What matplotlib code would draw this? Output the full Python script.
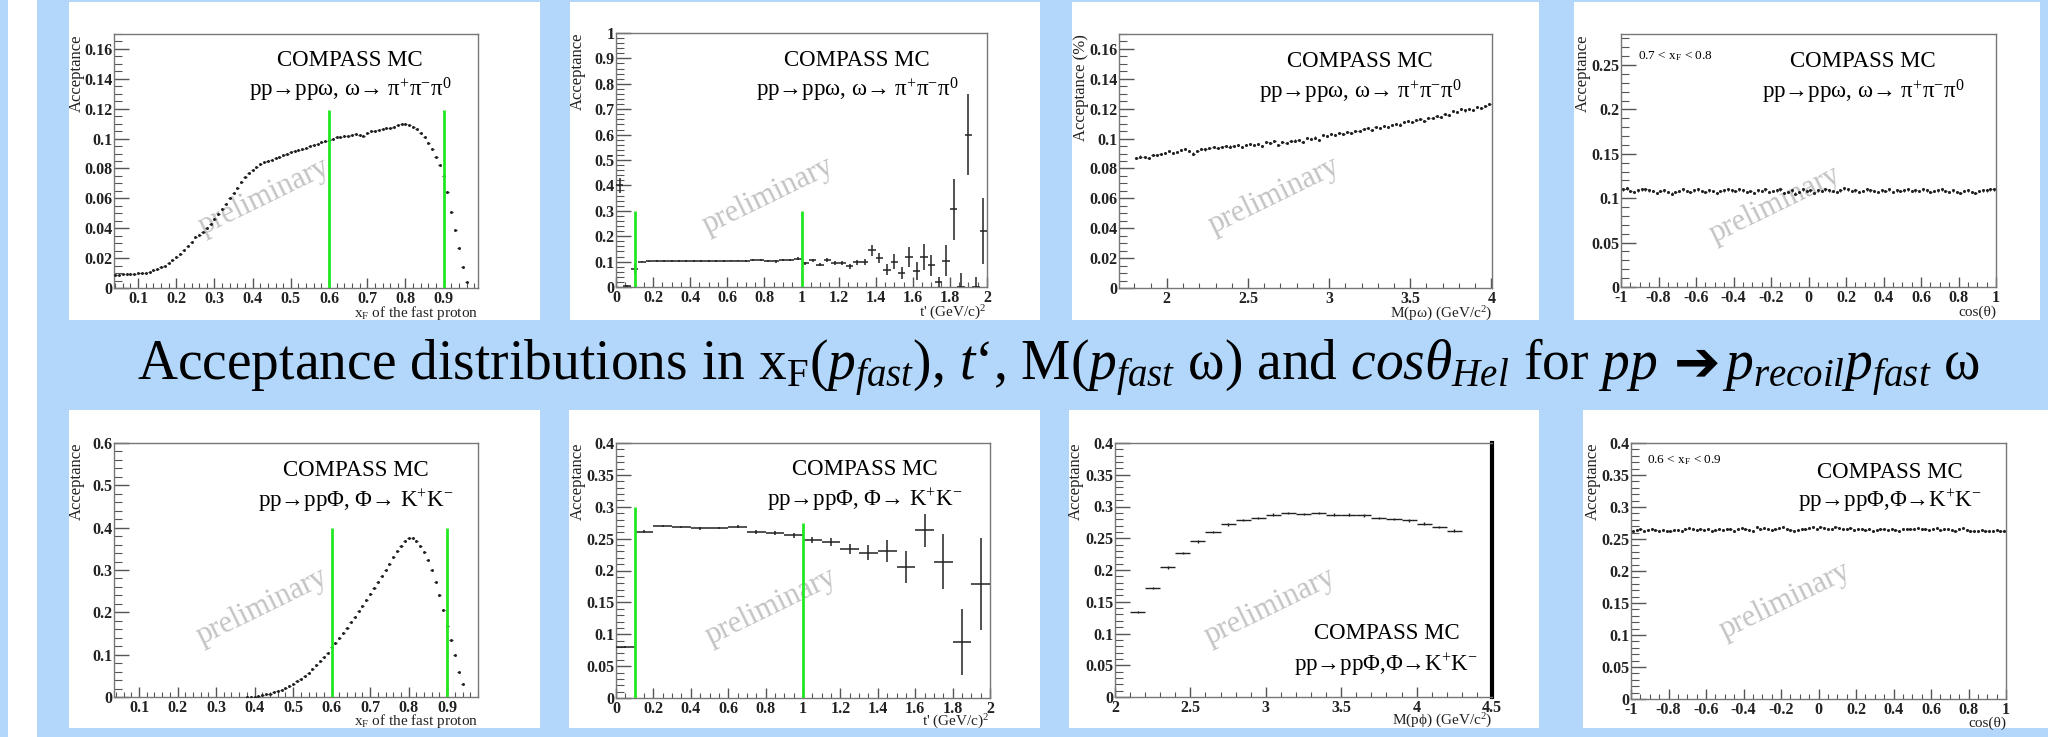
import matplotlib
matplotlib.use('Agg')
import matplotlib.pyplot as plt
import numpy as np
from matplotlib.patches import Rectangle
from matplotlib.ticker import AutoMinorLocator, FuncFormatter, MultipleLocator

W, H = 2048, 737
BLUE = '#b3d7fb'
GREEN = '#22e822'
INK = '#222222'

plt.rcParams['font.family'] = ['Liberation Serif', 'DejaVu Serif']
plt.rcParams['mathtext.fontset'] = 'custom'
plt.rcParams['mathtext.rm'] = 'Liberation Serif'
plt.rcParams['mathtext.it'] = 'Liberation Serif:italic'
plt.rcParams['mathtext.bf'] = 'Liberation Serif:bold'

# ---- data ----
# omega: acceptance vs x_F (bins of 0.01, 0.04 .. 0.96)
xf_omega_x = np.round(np.linspace(0.04, 0.96, 93), 3)
xf_omega = [0.0090, 0.0090, 0.0092, 0.0095, 0.0094, 0.0097, 0.0098, 0.0100, 0.0102, 0.0108,
            0.0118, 0.0128, 0.0138, 0.0150, 0.0166, 0.0190, 0.0210, 0.0230, 0.0252, 0.0280,
            0.0310, 0.0338, 0.0358, 0.0372, 0.0400, 0.0430, 0.0460, 0.0492, 0.0528, 0.0560,
            0.0600, 0.0638, 0.0672, 0.0708, 0.0740, 0.0768, 0.0790, 0.0810, 0.0828, 0.0840,
            0.0850, 0.0860, 0.0870, 0.0880, 0.0888, 0.0898, 0.0908, 0.0918, 0.0926, 0.0930,
            0.0940, 0.0948, 0.0958, 0.0966, 0.0975, 0.0985, 0.0992, 0.1000, 0.1008, 0.1012,
            0.1020, 0.1018, 0.1024, 0.1030, 0.1026, 0.1020, 0.1040, 0.1048, 0.1052, 0.1060,
            0.1062, 0.1070, 0.1072, 0.1080, 0.1090, 0.1096, 0.1100, 0.1092, 0.1080, 0.1062,
            0.1040, 0.1012, 0.0972, 0.0930, 0.0880, 0.0820, 0.0750, 0.0640, 0.0510, 0.0390,
            0.0270, 0.0140, 0.0040]

# omega: acceptance vs t' (bins of 0.04)
t_omega_x = np.round(np.linspace(0.02, 1.98, 50), 3)
t_omega = [0.400, 0.005, 0.070, 0.100, 0.101, 0.102, 0.103, 0.103, 0.103, 0.103,
           0.103, 0.103, 0.102, 0.103, 0.103, 0.104, 0.104, 0.103, 0.107, 0.105,
           0.104, 0.101, 0.106, 0.106, 0.111, 0.094, 0.105, 0.088, 0.107, 0.094,
           0.094, 0.081, 0.097, 0.097, 0.144, 0.114, 0.068, 0.100, 0.055, 0.118,
           0.062, 0.118, 0.085, 0.018, 0.104, 0.307, 0.000, 0.600, 0.000, 0.222]
t_omega_err = [0.030, 0.004, 0.020, 0.003, 0.003, 0.003, 0.003, 0.003, 0.003, 0.003,
               0.003, 0.003, 0.003, 0.003, 0.003, 0.003, 0.003, 0.004, 0.004, 0.004,
               0.004, 0.005, 0.005, 0.005, 0.006, 0.006, 0.007, 0.007, 0.008, 0.008,
               0.009, 0.010, 0.011, 0.012, 0.020, 0.020, 0.022, 0.030, 0.025, 0.040,
               0.035, 0.050, 0.040, 0.020, 0.060, 0.120, 0.055, 0.160, 0.040, 0.130]

# omega: acceptance vs M(p omega) (bins of 0.025, 1.8 .. 4.0)
m_omega_x = np.round(np.linspace(1.8125, 3.9875, 88), 4)
m_omega = [0.0868, 0.0880, 0.0878, 0.0872, 0.0888, 0.0893, 0.0897, 0.0904,
           0.0915, 0.0905, 0.0912, 0.0923, 0.0928, 0.0918, 0.0900, 0.0916,
           0.0932, 0.0927, 0.0940, 0.0944, 0.0936, 0.0941, 0.0950, 0.0947,
           0.0952, 0.0960, 0.0946, 0.0956, 0.0966, 0.0959, 0.0963, 0.0950,
           0.0975, 0.0970, 0.0983, 0.0956, 0.0976, 0.0970, 0.0981, 0.0987,
           0.0992, 0.0978, 0.1003, 0.0996, 0.1007, 0.0988, 0.1022, 0.1020,
           0.1030, 0.1024, 0.1038, 0.1033, 0.1045, 0.1040, 0.1052, 0.1048,
           0.1062, 0.1068, 0.1060, 0.1075, 0.1070, 0.1082, 0.1078, 0.1090,
           0.1100, 0.1094, 0.1110, 0.1115, 0.1108, 0.1122, 0.1130, 0.1120,
           0.1140, 0.1136, 0.1152, 0.1146, 0.1162, 0.1155, 0.1186, 0.1178,
           0.1195, 0.1188, 0.1200, 0.1192, 0.1210, 0.1204, 0.1218, 0.1230]

# omega: acceptance vs cos(theta), 0.7 < xF < 0.8 (bins of 0.02)
cos_omega_x = np.round(np.linspace(-0.99, 0.99, 100), 3)
cos_omega = [0.110, 0.111, 0.108, 0.107, 0.109, 0.110, 0.110, 0.109, 0.108, 0.106,
             0.108, 0.109, 0.107, 0.105, 0.107, 0.108, 0.110, 0.108, 0.107, 0.109,
             0.110, 0.108, 0.107, 0.109, 0.108, 0.106, 0.108, 0.109, 0.110, 0.109,
             0.108, 0.110, 0.109, 0.107, 0.108, 0.106, 0.109, 0.108, 0.110, 0.107,
             0.108, 0.109, 0.110, 0.106, 0.107, 0.109, 0.105, 0.107, 0.110, 0.108,
             0.109, 0.106, 0.109, 0.108, 0.110, 0.109, 0.108, 0.107, 0.109, 0.111,
             0.110, 0.108, 0.109, 0.107, 0.108, 0.110, 0.109, 0.108, 0.107, 0.109,
             0.108, 0.110, 0.107, 0.109, 0.108, 0.109, 0.110, 0.108, 0.109, 0.108,
             0.110, 0.109, 0.107, 0.108, 0.109, 0.110, 0.108, 0.107, 0.109, 0.107,
             0.106, 0.108, 0.109, 0.107, 0.106, 0.108, 0.109, 0.109, 0.110, 0.110]

# phi: acceptance vs x_F (bins of 0.01, 0.38 .. 0.94)
xf_phi_x = np.round(np.linspace(0.38, 0.94, 57), 3)
xf_phi = [0.000, 0.0005, 0.001, 0.002, 0.004, 0.006, 0.008, 0.011, 0.014, 0.017,
          0.021, 0.026, 0.031, 0.037, 0.043, 0.050, 0.057, 0.066, 0.075, 0.084,
          0.094, 0.105, 0.117, 0.128, 0.139, 0.151, 0.163, 0.176, 0.189, 0.202,
          0.216, 0.230, 0.244, 0.258, 0.272, 0.287, 0.301, 0.315, 0.330, 0.344,
          0.357, 0.368, 0.375, 0.375, 0.368, 0.357, 0.343, 0.323, 0.300, 0.272,
          0.240, 0.205, 0.168, 0.135, 0.100, 0.058, 0.030]

# phi: acceptance vs t' (bins of 0.1)
t_phi_x = np.round(np.linspace(0.05, 1.95, 20), 3)
t_phi = [0.080, 0.261, 0.270, 0.268, 0.266, 0.267, 0.269, 0.261, 0.259, 0.255,
         0.248, 0.245, 0.234, 0.228, 0.231, 0.206, 0.263, 0.214, 0.088, 0.179]
t_phi_err = [0.002, 0.002, 0.002, 0.002, 0.002, 0.002, 0.002, 0.003, 0.003, 0.004,
             0.005, 0.006, 0.008, 0.012, 0.017, 0.025, 0.026, 0.043, 0.052, 0.072]

# phi: acceptance vs M(p phi) (bins of 0.1)
m_phi_x = np.round(np.linspace(2.15, 4.25, 22), 3)
m_phi = [0.134, 0.172, 0.204, 0.227, 0.245, 0.260, 0.272, 0.279, 0.282, 0.287, 0.290,
         0.288, 0.290, 0.287, 0.287, 0.286, 0.282, 0.280, 0.278, 0.273, 0.268, 0.262]

# phi: acceptance vs cos(theta), 0.6 < xF < 0.9 (bins of 0.02)
cos_phi_x = np.round(np.linspace(-0.99, 0.99, 100), 3)
cos_phi = [0.262, 0.264, 0.265, 0.263, 0.264, 0.265, 0.264, 0.263, 0.264, 0.263,
           0.262, 0.264, 0.264, 0.263, 0.265, 0.267, 0.265, 0.264, 0.266, 0.264,
           0.265, 0.263, 0.264, 0.266, 0.264, 0.265, 0.265, 0.263, 0.265, 0.267,
           0.266, 0.264, 0.263, 0.268, 0.266, 0.267, 0.265, 0.264, 0.266, 0.267,
           0.268, 0.266, 0.264, 0.263, 0.264, 0.265, 0.266, 0.267, 0.268, 0.266,
           0.268, 0.267, 0.265, 0.266, 0.269, 0.267, 0.265, 0.266, 0.267, 0.264,
           0.265, 0.266, 0.264, 0.265, 0.263, 0.264, 0.266, 0.265, 0.264, 0.265,
           0.264, 0.263, 0.265, 0.266, 0.265, 0.266, 0.267, 0.265, 0.266, 0.264,
           0.265, 0.267, 0.264, 0.265, 0.266, 0.264, 0.263, 0.265, 0.267, 0.264,
           0.263, 0.262, 0.263, 0.264, 0.263, 0.262, 0.263, 0.264, 0.263, 0.263]

xf_cuts = [0.6, 0.9]
t_cuts = [0.1, 1.0]

omega_lines = ['COMPASS MC', r'pp→ppω, ω→ $\mathrm{\pi^{+}\pi^{-}\pi^{0}}$']
phi_lines = ['COMPASS MC', r'pp→ppΦ, Φ→ $\mathrm{K^{+}K^{-}}$']
phi_lines_tight = ['COMPASS MC', r'pp→ppΦ,Φ→$\mathrm{K^{+}K^{-}}$']

lab_xf = r'x$_\mathrm{F}$ of the fast proton'
lab_t = r"t' $\mathrm{(GeV/c)^{2}}$"
lab_momega = r'M(pω) $\mathrm{(GeV/c^{2})}$'
lab_mphi = r'M(pϕ) $\mathrm{(GeV/c^{2})}$'
lab_cos = 'cos(θ)'

fig = plt.figure(figsize=(W / 100, H / 100), dpi=100, facecolor=BLUE)
fig.add_artist(Rectangle((8 / W, 0), 29 / W, 1, transform=fig.transFigure,
                         fc='white', ec='none', zorder=-2))

fmt = FuncFormatter(lambda v, p: f'{round(v, 6) + 0.0:g}')


def make_panel(card, frame):
    cx0, cy0, cx1, cy1 = card
    fig.add_artist(Rectangle((cx0 / W, 1 - cy1 / H), (cx1 - cx0) / W, (cy1 - cy0) / H,
                             transform=fig.transFigure, fc='white', ec='none', zorder=-1))
    fx0, fy0, fx1, fy1 = frame
    return fig.add_axes([fx0 / W, 1 - fy1 / H, (fx1 - fx0) / W, (fy1 - fy0) / H])


def root_axes(ax, xlim, ylim, xstep, xsub, ystep, ysub, xlabel, ylabel, xlab_y=-0.1):
    ax.set_xlim(*xlim)
    ax.set_ylim(*ylim)
    ax.xaxis.set_major_locator(MultipleLocator(xstep))
    ax.xaxis.set_minor_locator(AutoMinorLocator(xsub))
    ax.yaxis.set_major_locator(MultipleLocator(ystep))
    ax.yaxis.set_minor_locator(AutoMinorLocator(ysub))
    ax.xaxis.set_major_formatter(fmt)
    ax.yaxis.set_major_formatter(fmt)
    ax.tick_params(which='both', direction='in', top=False, right=False,
                   color='#555555', labelsize=11.5, labelcolor='#222222')
    ax.tick_params(axis='y', which='major', length=11, width=1, pad=1)
    ax.tick_params(axis='y', which='minor', length=6, width=0.8)
    ax.tick_params(axis='x', which='major', length=7, width=1, pad=2)
    ax.tick_params(axis='x', which='minor', length=3.5, width=0.8)
    for s in ax.spines.values():
        s.set_color('#777777')
        s.set_linewidth(1)
    ax.text(1.0, xlab_y, xlabel, transform=ax.transAxes, ha='right', va='center',
            fontsize=11, color='#222222')
    ax.text(-0.103, 1.0, ylabel, transform=ax.transAxes, ha='center', va='top',
            rotation=90, fontsize=12, color='#222222')
    plt.setp(ax.get_xticklabels() + ax.get_yticklabels(), fontweight='bold')


def watermark(ax, x, y):
    ax.text(x, y, 'preliminary', rotation=26, color='#c4c4c4', fontsize=22,
            ha='center', va='center', zorder=1)


def caption(ax, lines, x, y1, y2):
    ax.text(x, y1, lines[0], transform=ax.transAxes, ha='center', va='center', fontsize=16.5)
    ax.text(x, y2, lines[1], transform=ax.transAxes, ha='center', va='center', fontsize=16.5)


def points(ax, x, y, xerr, yerr, ms=0.0, lw=0.9):
    ax.errorbar(x, y, xerr=xerr, yerr=yerr, fmt='o' if ms else 'none', ms=ms,
                color=INK, ecolor=INK, elinewidth=lw, capsize=0, zorder=3)


# ---- top row: omega ----
ax = make_panel((69, 2, 540, 320), (114, 34, 478, 288))
root_axes(ax, (0.037, 0.99), (0, 0.17), 0.1, 5, 0.02, 4, lab_xf, 'Acceptance')
watermark(ax, 0.43, 0.061)
points(ax, xf_omega_x, xf_omega, 0.004, 0.0006, ms=1.1, lw=0.8)
ax.vlines(xf_cuts, 0, 0.119, color=GREEN, lw=2, zorder=4)
caption(ax, omega_lines, 0.648, 0.895, 0.78)

ax = make_panel((570, 2, 1040, 320), (616, 33, 987, 287))
root_axes(ax, (0, 2), (0, 1), 0.2, 4, 0.1, 5, lab_t, 'Acceptance')
watermark(ax, 0.82, 0.36)
points(ax, t_omega_x, t_omega, 0.02, t_omega_err, lw=1.1)
ax.vlines(t_cuts, 0, 0.3, color=GREEN, lw=2, zorder=4)
caption(ax, omega_lines, 0.649, 0.891, 0.777)

ax = make_panel((1072, 2, 1539, 320), (1119, 34, 1492, 288))
root_axes(ax, (1.705, 4.004), (0, 0.17), 0.5, 5, 0.02, 4, lab_momega, 'Acceptance (%)')
watermark(ax, 2.66, 0.0615)
points(ax, m_omega_x, m_omega, 0.008, 0.0007, ms=1.2, lw=0.8)
caption(ax, omega_lines, 0.646, 0.892, 0.774)

ax = make_panel((1574, 2, 2040, 320), (1621, 34, 1996, 287))
root_axes(ax, (-1, 1), (0, 0.285), 0.2, 4, 0.05, 5, lab_cos, 'Acceptance')
watermark(ax, -0.18, 0.093)
points(ax, cos_omega_x, cos_omega, 0.006, 0.0015, ms=1.2, lw=0.8)
caption(ax, omega_lines, 0.646, 0.892, 0.773)
ax.text(0.046, 0.912, r'0.7 < x$_\mathrm{F}$ < 0.8', transform=ax.transAxes,
        ha='left', va='center', fontsize=9.5)

# ---- bottom row: phi ----
ax = make_panel((69, 410, 540, 728), (114, 443, 478, 697))
root_axes(ax, (0.035, 0.98), (0, 0.6), 0.1, 5, 0.1, 5, lab_xf, 'Acceptance', xlab_y=-0.094)
watermark(ax, 0.42, 0.213)
points(ax, xf_phi_x, xf_phi, 0.004, 0.002, ms=1.1, lw=0.8)
ax.vlines(xf_cuts, 0, 0.4, color=GREEN, lw=2, zorder=4)
caption(ax, phi_lines, 0.664, 0.892, 0.774)

ax = make_panel((569, 410, 1040, 728), (616, 443, 990, 698))
root_axes(ax, (0, 2), (0, 0.4), 0.2, 4, 0.05, 5, lab_t, 'Acceptance', xlab_y=-0.094)
watermark(ax, 0.83, 0.143)
points(ax, t_phi_x, t_phi, 0.05, t_phi_err, lw=1.1)
ax.vlines(t_cuts[0], 0, 0.3, color=GREEN, lw=2, zorder=4)
ax.vlines(t_cuts[1], 0, 0.275, color=GREEN, lw=2, zorder=4)
caption(ax, phi_lines, 0.666, 0.896, 0.777)

ax = make_panel((1069, 410, 1539, 728), (1115, 443, 1492, 697))
root_axes(ax, (2, 4.5), (0, 0.4), 0.5, 5, 0.05, 5, lab_mphi, 'Acceptance', xlab_y=-0.094)
watermark(ax, 3.03, 0.142)
points(ax, m_phi_x, m_phi, 0.05, 0.002, lw=1.0)
ax.spines['right'].set_color('black')
ax.spines['right'].set_linewidth(3)
caption(ax, phi_lines_tight, 0.72, 0.249, 0.125)

ax = make_panel((1583, 410, 2048, 728), (1631, 443, 2006, 699))
root_axes(ax, (-1, 1), (0, 0.4), 0.2, 4, 0.05, 5, lab_cos, 'Acceptance', xlab_y=-0.095)
watermark(ax, -0.18, 0.153)
points(ax, cos_phi_x, cos_phi, 0.006, 0.0015, ms=1.2, lw=0.8)
caption(ax, phi_lines_tight, 0.69, 0.884, 0.776)
ax.text(0.043, 0.934, r'0.6 < x$_\mathrm{F}$ < 0.9', transform=ax.transAxes,
        ha='left', va='center', fontsize=9.5)

# ---- slide title between the rows ----
title_a = (r'Acceptance distributions in x$_\mathrm{F}$($p_{fast}$), $t$‘, '
           r'M($p_{fast}$ ω) and $cos\theta_{Hel}$ for $pp$')
title_b = r'$p_{recoil}p_{fast}$ ω'


def draw_title(size):
    r = fig.canvas.get_renderer()
    yb = 1 - 380 / H
    t1 = fig.text(137 / W, yb, title_a, fontsize=size, va='baseline')
    x = t1.get_window_extent(r).x1 + size * 0.4
    t2 = fig.text(x / W, yb, '➔', family='DejaVu Sans', fontsize=size * 1.0,
                  fontweight='bold', va='baseline')
    x = t2.get_window_extent(r).x1 + size * 0.05
    t3 = fig.text(x / W, yb, title_b, fontsize=size, va='baseline')
    return [t1, t2, t3], t3.get_window_extent(r).x1 - 137


parts, width = draw_title(36)
for p in parts:
    p.remove()
draw_title(36 * 1846 / width)

fig.savefig('out.png', dpi=100, facecolor=BLUE)
plt.close(fig)
